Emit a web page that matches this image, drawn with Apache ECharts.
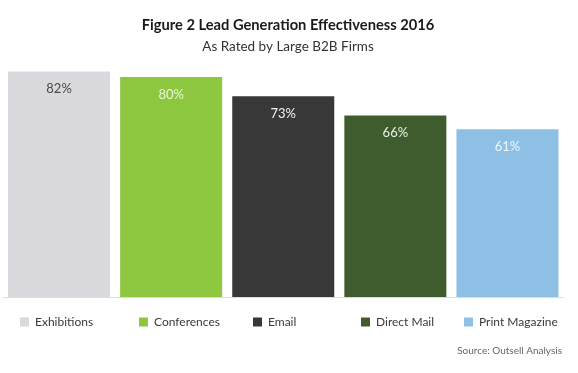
<!DOCTYPE html>
<html>
<head>
<meta charset="utf-8">
<script src="https://cdn.jsdelivr.net/npm/echarts@6/dist/echarts.min.js"></script>
<style>html,body{margin:0;padding:0;background:#fff}#c{width:578px;height:373px}</style>
</head>
<body>
<div id="c"></div>
<script>
const categories = ['Exhibitions', 'Conferences', 'Email', 'Direct Mail', 'Print Magazine'];
const values = [82, 80, 73, 66, 61];
const barColors = ['#d9d9de', '#8dc63f', '#383838', '#3f5c2e', '#8ec0e6'];
const labelColors = ['#4a4a4a', '#eaf6dc', '#f2f2f2', '#eaf2e4', '#f0f7fc'];
const legendLefts = [20, 139, 253, 361, 464];
const titleText = 'Figure 2 Lead Generation Effectiveness 2016';
const subtitleText = 'As Rated by Large B2B Firms';
const sourceText = 'Source: Outsell Analysis';

const font = 'Lato, "Open Sans", sans-serif';
const chart = echarts.init(document.getElementById('c'), null, {renderer: 'canvas'});

const series = categories.map((name, i) => ({
  name: name,
  type: 'bar',
  stack: 'all',
  barCategoryGap: '9%',
  data: values.map((v, j) => (j === i ? v : null)),
  itemStyle: {color: barColors[i]},
  label: {
    show: true,
    position: 'insideTop',
    distance: 11,
    formatter: p => p.value + '%',
    color: labelColors[i],
    fontSize: 13,
    fontFamily: font
  },
  emphasis: {disabled: true}
}));

const legends = categories.map((name, i) => ({
  data: [name],
  left: legendLefts[i],
  top: 316,
  padding: 0,
  itemWidth: 9,
  itemHeight: 9,
  icon: 'rect',
  itemGap: 6,
  textStyle: {color: '#3a3a3a', fontSize: 12, fontFamily: font, padding: [0, 0, 0, 1]},
  selectedMode: false
}));

chart.setOption({
  backgroundColor: '#fff',
  animation: false,
  title: [
    {text: titleText, left: 283, top: 13, textAlign: 'center',
     textStyle: {fontSize: 14.7, fontWeight: 'bold', color: '#1a1a1a', fontFamily: font}},
    {text: subtitleText, left: 283, top: 35, textAlign: 'center',
     textStyle: {fontSize: 13.5, fontWeight: 'normal', color: '#333', fontFamily: font}},
    {text: sourceText, right: 11, top: 341,
     textStyle: {fontSize: 10, fontWeight: 'normal', color: '#666', fontFamily: font}}
  ],
  legend: legends,
  grid: {left: 3, right: 14.5, top: 22, bottom: 76},
  xAxis: {
    type: 'category',
    data: categories,
    axisLine: {show: true, lineStyle: {color: '#dcdcdc', width: 1}},
    axisTick: {show: false},
    axisLabel: {show: false}
  },
  yAxis: {
    type: 'value',
    min: 0,
    max: 100,
    show: false,
    splitLine: {show: false}
  },
  series: series
});
</script>
</body>
</html>
